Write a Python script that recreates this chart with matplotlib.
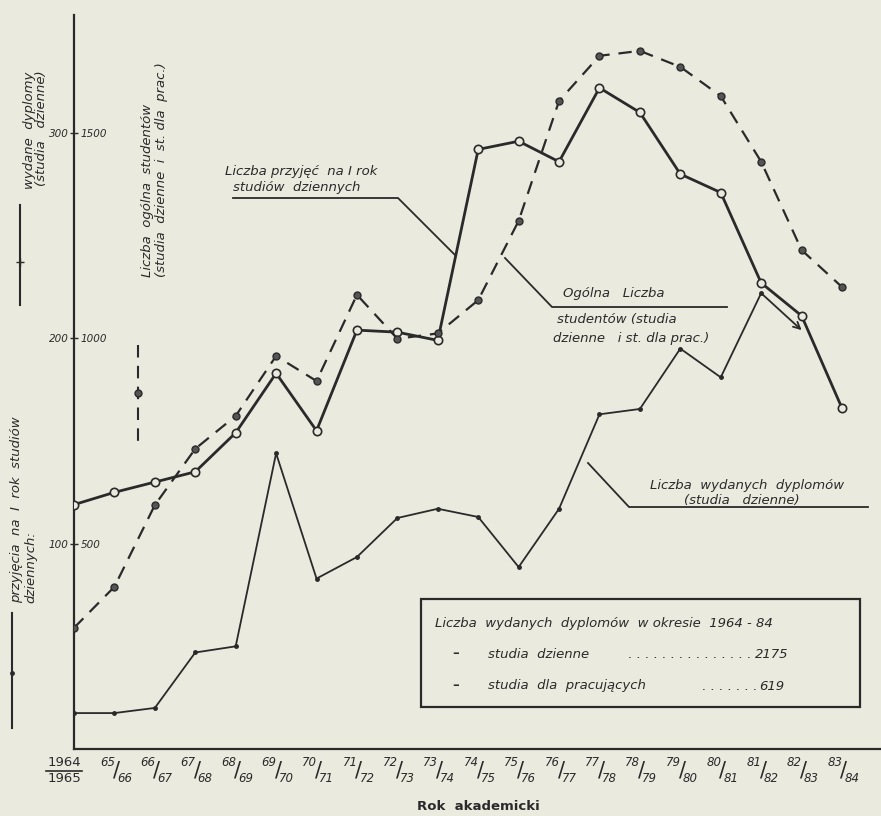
import matplotlib
matplotlib.use('Agg')
import matplotlib.pyplot as plt
from matplotlib.lines import Line2D
from matplotlib.patches import Rectangle

# ---------------- data ----------------
years_num = ['1964', '65', '66', '67', '68', '69', '70', '71', '72', '73',
             '74', '75', '76', '77', '78', '79', '80', '81', '82', '83']
years_den = ['1965', '66', '67', '68', '69', '70', '71', '72', '73', '74',
             '75', '76', '77', '78', '79', '80', '81', '82', '83', '84']
# admissions to 1st year, full-time studies (left scale 0-300)
admissions = [119, 125, 130, 135, 154, 183, 155, 204, 203, 199,
              292, 296, 286, 322, 310, 280, 271, 227, 211, 166]
# total number of students (scale 0-1500)
students = [295, 395, 594, 731, 811, 957, 896, 1106, 999, 1012,
            1093, 1286, 1578, 1688, 1700, 1661, 1590, 1430, 1215, 1125]
# diplomas issued, full-time studies (left scale 0-300), up to 82/83
diplomas = [17.5, 17.5, 20, 47, 50, 144, 83, 93.5, 112.5, 117,
            113, 88.6, 117, 163, 165.6, 195, 181, 222, 204]
left_ticks = [100, 200, 300]
right_ticks = [500, 1000, 1500]

# ---------------- style ----------------
W, H = 881, 816
BG = '#ebeadf'
INK = '#2a2a2a'
plt.rcParams['font.family'] = ['DejaVu Sans']

fig = plt.figure(figsize=(W / 100, H / 100), dpi=100, facecolor=BG)

def P(x, y):
    return (x / W, 1 - y / H)

ax_left, ax_right = 74, 881
ax_bottom, ax_top = 749, 15
ax = fig.add_axes([ax_left / W, 1 - ax_bottom / H, (ax_right - ax_left) / W,
                   (ax_bottom - ax_top) / H])
ax.set_facecolor('none')
px_per_idx = (842 - 74) / 19.0
ax.set_xlim(0, (ax_right - ax_left) / px_per_idx)
ymax = (ax_bottom - ax_top) / ((749 - 133) / 300.0)
ax.set_ylim(0, ymax)

for s in ['top', 'right']:
    ax.spines[s].set_visible(False)
for s in ['left', 'bottom']:
    ax.spines[s].set_linewidth(1.6)
    ax.spines[s].set_color(INK)

ax.set_xticks(range(len(years_num)))
ax.set_xticklabels([])
ax.tick_params(axis='x', length=0)
ax.set_yticks(left_ticks)
ax.set_yticklabels([str(v) for v in left_ticks], fontsize=7.5, style='italic', color=INK)
ax.tick_params(axis='y', direction='inout', length=6, width=1.0, color=INK, pad=1)

ax2 = ax.twinx()
ax2.set_ylim(0, ymax * 5)
for s in ax2.spines.values():
    s.set_visible(False)
ax2.yaxis.set_ticks_position('left')
ax2.set_yticks(right_ticks)
ax2.set_yticklabels([str(v) for v in right_ticks], fontsize=7.5, style='italic', color=INK)
ax2.tick_params(axis='y', left=True, labelleft=True, right=False, labelright=False,
                length=0, pad=-5)
for lab in ax2.get_yticklabels():
    lab.set_ha('left')

x = list(range(len(years_num)))

# admissions - solid with open circles
ax.plot(x, admissions, color=INK, lw=2.0, marker='o', ms=6, mfc=BG, mec=INK, mew=1.2,
        zorder=4)
# students - dashed with filled dots
ax2.plot(x, students, color=INK, lw=1.6, ls=(0, (6, 4)), marker='o', ms=5,
         mfc='#555555', mec=INK, mew=1.0, zorder=3)
# diplomas - thin solid, arrow at the end
xd = x[:len(diplomas)]
ax.plot(xd[:-1], diplomas[:-1], color=INK, lw=1.3, marker='o', ms=2.5, mfc=INK, mec=INK,
        zorder=3)
ax.annotate('', xy=(xd[-1], diplomas[-1]), xytext=(xd[-2], diplomas[-2]),
            arrowprops=dict(arrowstyle='->', lw=1.3, color=INK, shrinkA=0, shrinkB=0,
                            mutation_scale=12))

# x tick labels as slanted fractions
for i in x:
    if i == 0:
        ax.annotate(years_num[i], xy=(i, 0), xycoords=('data', 'axes fraction'),
                    xytext=(-10, -14), textcoords='offset pixels', ha='center', va='center',
                    fontsize=9.5, color=INK)
        ax.annotate(years_den[i], xy=(i, 0), xycoords=('data', 'axes fraction'),
                    xytext=(-10, -30), textcoords='offset pixels', ha='center', va='center',
                    fontsize=9.5, color=INK)
    else:
        ax.annotate(years_num[i], xy=(i, 0), xycoords=('data', 'axes fraction'),
                    xytext=(-7, -13), textcoords='offset pixels', ha='center', va='center',
                    fontsize=8.5, color=INK, style='italic')
        ax.annotate('/', xy=(i, 0), xycoords=('data', 'axes fraction'),
                    xytext=(2, -21), textcoords='offset pixels', ha='center', va='center',
                    fontsize=15, color=INK)
        ax.annotate(years_den[i], xy=(i, 0), xycoords=('data', 'axes fraction'),
                    xytext=(10, -29), textcoords='offset pixels', ha='center', va='center',
                    fontsize=8.5, color=INK, style='italic')

def fline(pts, **kw):
    xs = [p[0] / W for p in pts]
    ys = [1 - p[1] / H for p in pts]
    fig.add_artist(Line2D(xs, ys, transform=fig.transFigure, color=INK, **kw))

def ftext(xp, yp, s, **kw):
    kw.setdefault('color', INK)
    kw.setdefault('fontsize', 9.5)
    kw.setdefault('style', 'italic')
    fig.text(*P(xp, yp), s, **kw)

# fraction bar of first label
fline([(46, 771), (82, 771)], lw=1.2)

# axis title
ftext(478, 807, 'Rok  akademicki', ha='center', va='center', fontsize=9.5,
      style='normal', weight='bold')

# annotations
ftext(225, 172, 'Liczba przyjęć  na I rok', ha='left', va='center')
ftext(233, 188, 'studiów  dziennych', ha='left', va='center')
fline([(233, 198), (398, 198), (455, 255)], lw=1.3)

ftext(563, 294, 'Ogólna   Liczba', ha='left', va='center')
fline([(505, 258), (552, 307), (727, 307)], lw=1.3)
ftext(557, 320, 'studentów (studia', ha='left', va='center')
ftext(553, 338, 'dzienne   i st. dla prac.)', ha='left', va='center')

ftext(650, 486, 'Liczba  wydanych  dyplomów', ha='left', va='center')
ftext(742, 500, '(studia   dzienne)', ha='center', va='center')
fline([(588, 463), (629, 507), (868, 507)], lw=1.3)

# summary box
fig.add_artist(Rectangle(P(421, 707), (860 - 421) / W, (707 - 599) / H,
                         transform=fig.transFigure, fill=False, ec=INK, lw=1.6))
ftext(435, 624, 'Liczba  wydanych  dyplomów  w okresie  1964 - 84', ha='left', va='center')
ftext(452, 654, '–', ha='left', va='center', style='normal', weight='bold')
ftext(488, 654, 'studia  dzienne', ha='left', va='center')
ftext(751, 654, ' .' * 15, ha='right', va='center')
ftext(788, 654, '2175', ha='right', va='center')
ftext(452, 686, '–', ha='left', va='center', style='normal', weight='bold')
ftext(488, 686, 'studia  dla  pracujących', ha='left', va='center')
ftext(758, 686, ' .' * 7, ha='right', va='center')
ftext(784, 686, '619', ha='right', va='center')

# left-side legend keys
ftext(29, 130, 'wydane  dyplomy', rotation=90, ha='center', va='center')
ftext(41, 128, '(studia   dzienne)', rotation=90, ha='center', va='center')
fig.add_artist(Line2D([20 / W, 20 / W], [1 - 205 / H, 1 - 305 / H], transform=fig.transFigure,
                      color=INK, lw=1.5))
fig.add_artist(Line2D([20 / W], [1 - 262 / H], transform=fig.transFigure, color=INK,
                      marker='+', ms=6, mew=1.0))

ftext(148, 277, 'Liczba  ogólna  studentów', rotation=90, ha='center', va='bottom')
ftext(161, 277, '(studia  dzienne  i  st. dla  prac.)', rotation=90, ha='center', va='bottom')
fig.add_artist(Line2D([138 / W, 138 / W], [1 - 345 / H, 1 - 442 / H], transform=fig.transFigure,
                      color=INK, lw=1.5, ls=(0, (6, 4))))
fig.add_artist(Line2D([138 / W], [1 - 393 / H], transform=fig.transFigure, color=INK,
                      marker='o', ms=5, mfc='#555555', mec=INK))

ftext(17, 603, 'przyjęcia  na  I  rok  studiów', rotation=90, ha='center', va='bottom')
ftext(31, 603, 'dziennych:', rotation=90, ha='center', va='bottom')
fig.add_artist(Line2D([12 / W, 12 / W], [1 - 613 / H, 1 - 728 / H], transform=fig.transFigure,
                      color=INK, lw=1.5))
fig.add_artist(Line2D([12 / W], [1 - 673 / H], transform=fig.transFigure, color=INK,
                      marker='o', ms=2.5))

fig.savefig('out.png', dpi=100, facecolor=BG)
